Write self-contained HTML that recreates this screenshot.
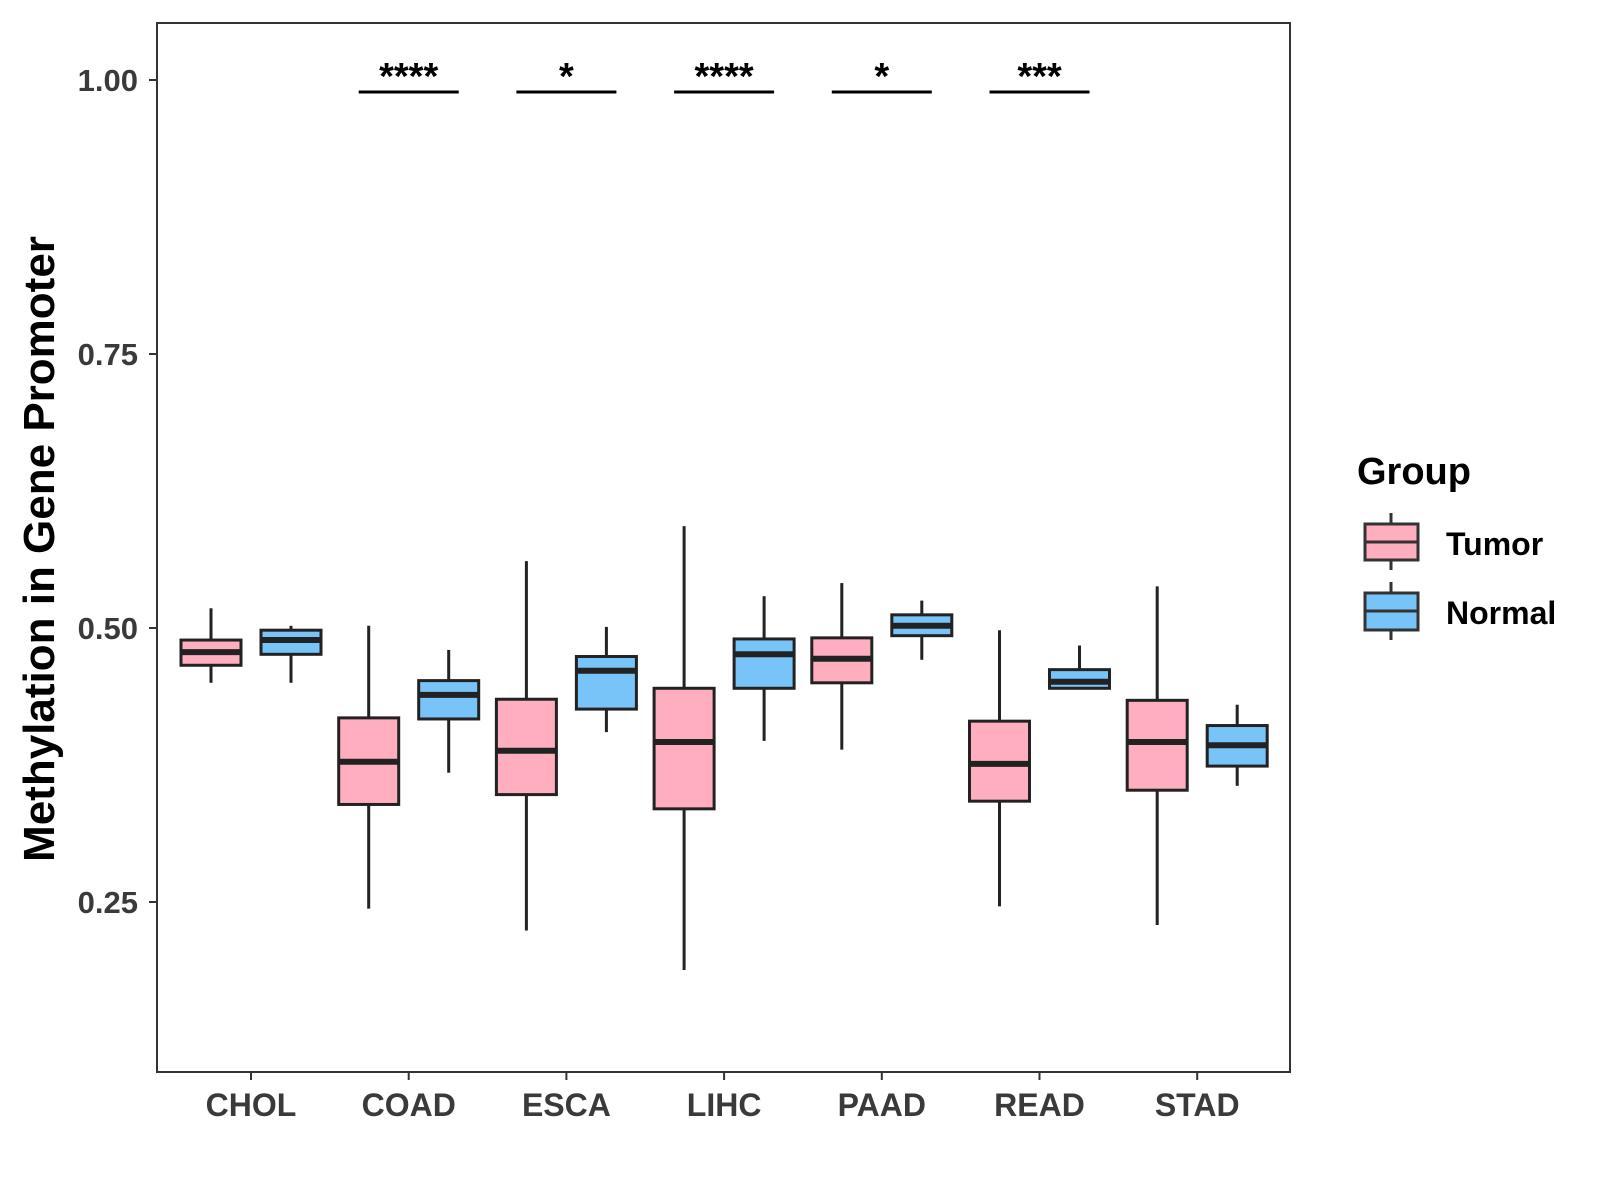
<!DOCTYPE html>
<html><head><meta charset="utf-8"><style>
html,body{margin:0;padding:0;background:#fff;}
svg{display:block;font-family:"Liberation Sans",Arial,sans-serif;font-weight:bold;}
</style></head><body>
<svg id="chart" width="1600" height="1200" viewBox="0 0 1600 1200">
<rect x="157" y="23" width="1133" height="1049" fill="#fff" stroke="#333" stroke-width="2"/>
<g id="marks"></g>
<g id="axes"></g>
<text transform="translate(54,549) rotate(-90)" text-anchor="middle" font-size="44" fill="#000">Methylation in Gene Promoter</text>
<g>
<text x="1357" y="484" font-size="38" fill="#000">Group</text>
<g>
<line x1="1391" y1="513" x2="1391" y2="570" stroke="#333" stroke-width="3"/>
<rect x="1365" y="524" width="53" height="36" fill="#FFAEC0" stroke="#333" stroke-width="3"/>
<line x1="1365" y1="542" x2="1418" y2="542" stroke="#333" stroke-width="3"/>
<text x="1446" y="555" font-size="32" fill="#000">Tumor</text>
</g>
<g>
<line x1="1391" y1="582" x2="1391" y2="640" stroke="#333" stroke-width="3"/>
<rect x="1365" y="593" width="53" height="37" fill="#78C4F8" stroke="#333" stroke-width="3"/>
<line x1="1365" y1="611" x2="1418" y2="611" stroke="#333" stroke-width="3"/>
<text x="1446" y="624" font-size="32" fill="#000">Normal</text>
</g>
</g>
</svg>
<script>
const categories=["CHOL","COAD","ESCA","LIHC","PAAD","READ","STAD"];
// [min, q1, median, q3, max]
const tumor=[[0.450,0.466,0.478,0.489,0.518],[0.244,0.339,0.378,0.418,0.502],[0.224,0.348,0.388,0.435,0.561],[0.188,0.335,0.396,0.445,0.593],[0.389,0.450,0.472,0.491,0.541],[0.246,0.342,0.376,0.415,0.498],[0.229,0.352,0.396,0.434,0.538]];
const normal=[[0.450,0.476,0.489,0.498,0.502],[0.368,0.417,0.439,0.452,0.480],[0.405,0.426,0.461,0.474,0.501],[0.397,0.445,0.476,0.490,0.529],[0.471,0.493,0.502,0.512,0.525],[0.445,0.445,0.451,0.462,0.484],[0.356,0.374,0.393,0.411,0.430]];
const sigCats=["COAD","ESCA","LIHC","PAAD","READ"];
const sigLabels=["****","*","****","*","***"];
const yTicks=[0.25,0.50,0.75,1.00];
const yTickLabels=["0.25","0.50","0.75","1.00"];
const sigLevel=0.989;

const NS="http://www.w3.org/2000/svg";
const y=v=>80+(1-v)*1096;
const x=i=>251+i*157.7;
const marks=document.getElementById('marks');
const axes=document.getElementById('axes');
function mk(tag,attrs,parent){const e=document.createElementNS(NS,tag);for(const k in attrs)e.setAttribute(k,attrs[k]);parent.appendChild(e);return e;}

function box(i,d,off,fill,nm){
  const g=mk('g',{},marks);
  
  
  const cx=x(i)+off,hw=30;
  mk('line',{x1:cx,x2:cx,y1:y(d[4]),y2:y(d[3]),stroke:'#222','stroke-width':3},g);
  mk('line',{x1:cx,x2:cx,y1:y(d[1]),y2:y(d[0]),stroke:'#222','stroke-width':3},g);
  mk('rect',{x:cx-hw,y:y(d[3]),width:2*hw,height:y(d[1])-y(d[3]),fill:fill,stroke:'#222','stroke-width':3},g);
  mk('line',{x1:cx-hw,x2:cx+hw,y1:y(d[2]),y2:y(d[2]),stroke:'#222','stroke-width':6},g);
}
categories.forEach((c,i)=>{
  box(i,tumor[i],-40,'#FFAEC0','box-'+c.toLowerCase()+'-tumor');
  box(i,normal[i],40,'#78C4F8','box-'+c.toLowerCase()+'-normal');
  const t=mk('line',{x1:x(i),x2:x(i),y1:1072,y2:1080,stroke:'#333','stroke-width':2},axes);
  
  
  const l=mk('text',{x:x(i),y:1116,'text-anchor':'middle','font-size':32,fill:'#3a3a3a'},axes);
  l.textContent=c;
  
  
});
yTicks.forEach((v,k)=>{
  const t=mk('line',{x1:149,x2:157,y1:y(v),y2:y(v),stroke:'#333','stroke-width':2},axes);
  
  
  const l=mk('text',{x:138,y:y(v)+11,'text-anchor':'end','font-size':31,fill:'#3a3a3a'},axes);
  l.textContent=yTickLabels[k];
  
  
});
sigCats.forEach((c,k)=>{
  const i=categories.indexOf(c);
  const g=mk('g',{},marks);
  
  
  mk('line',{x1:x(i)-50,x2:x(i)+50,y1:y(sigLevel),y2:y(sigLevel),stroke:'#000','stroke-width':3},g);
  const tx=mk('text',{x:x(i),y:y(sigLevel)-3,'text-anchor':'middle','font-size':38,fill:'#000'},g);
  tx.textContent=sigLabels[k];
});
</script>
</body></html>
